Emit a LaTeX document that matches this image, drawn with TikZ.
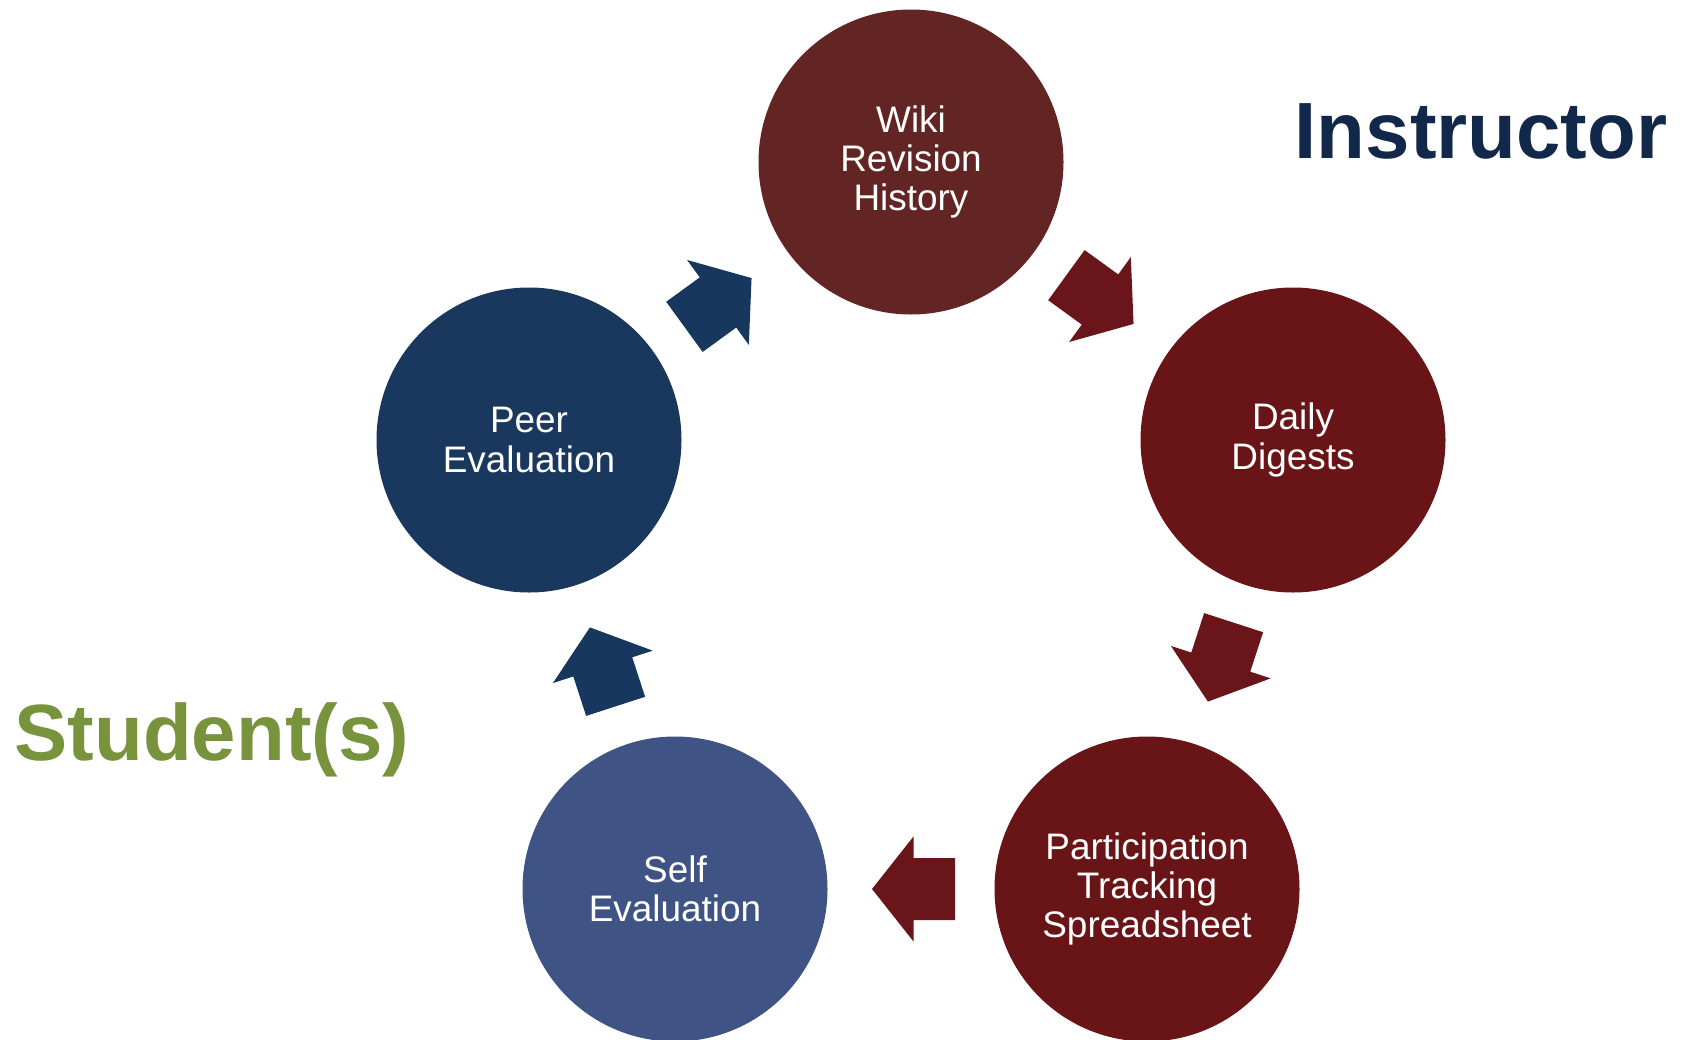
\documentclass[tikz,border=0pt]{standalone}
\usepackage{fontspec}
\setmainfont{Liberation Sans}
\usetikzlibrary{calc}

\definecolor{wikired}{HTML}{632523}
\definecolor{instred}{HTML}{691518}
\definecolor{peerblue}{HTML}{1A375E}
\definecolor{selfblue}{HTML}{3F5385}
\definecolor{arrowred}{HTML}{6A1519}
\definecolor{arrowblue}{HTML}{17375E}
\definecolor{instructorblue}{HTML}{12284A}
\definecolor{studentgreen}{HTML}{77933C}

\tikzset{
  stage/.style={circle, minimum size=3.05cm, inner sep=0pt, text=white, align=center,
    font=\fontsize{10.5}{11.2}\selectfont},
  rolelabel/.style={anchor=base west, inner sep=0pt, font=\fontsize{22.7}{27}\selectfont\bfseries},
  blockarrow/.pic={\fill[#1] (-0.44,-0.31) -- (-0.025,-0.31) -- (-0.025,-0.525) -- (0.39,0)
    -- (-0.025,0.525) -- (-0.025,0.31) -- (-0.44,0.31) -- cycle;}
}

\begin{document}
\begin{tikzpicture}

    \useasboundingbox (0,0) rectangle (16.83,-10.39);

    \node[stage, fill=wikired] (wiki) at (9.11,-1.62) {Wiki\\Revision\\History};
    \node[stage, fill=instred] (daily) at (12.93,-4.40) {Daily\\Digests};
    \node[stage, fill=instred] (part) at (11.47,-8.89) {Participation\\Tracking\\Spreadsheet};
    \node[stage, fill=selfblue] (self) at (6.75,-8.89) {Self\\Evaluation};
    \node[stage, fill=peerblue] (peer) at (5.29,-4.40) {Peer\\Evaluation};

    \foreach \a/\b/\ang/\col in {wiki/daily/-36/arrowred, daily/part/-108/arrowred,
        part/self/180/arrowred, self/peer/108/arrowblue, peer/wiki/36/arrowblue}
        \pic[rotate=\ang] at ($(\a)!0.5!(\b)$) {blockarrow=\col};

    \node[rolelabel, text=instructorblue] (instructor) at (12.94,-1.583) {Instructor};
    \node[rolelabel, text=studentgreen] (student) at (0.14,-7.60) {Student(s)};

\end{tikzpicture}
\end{document}
